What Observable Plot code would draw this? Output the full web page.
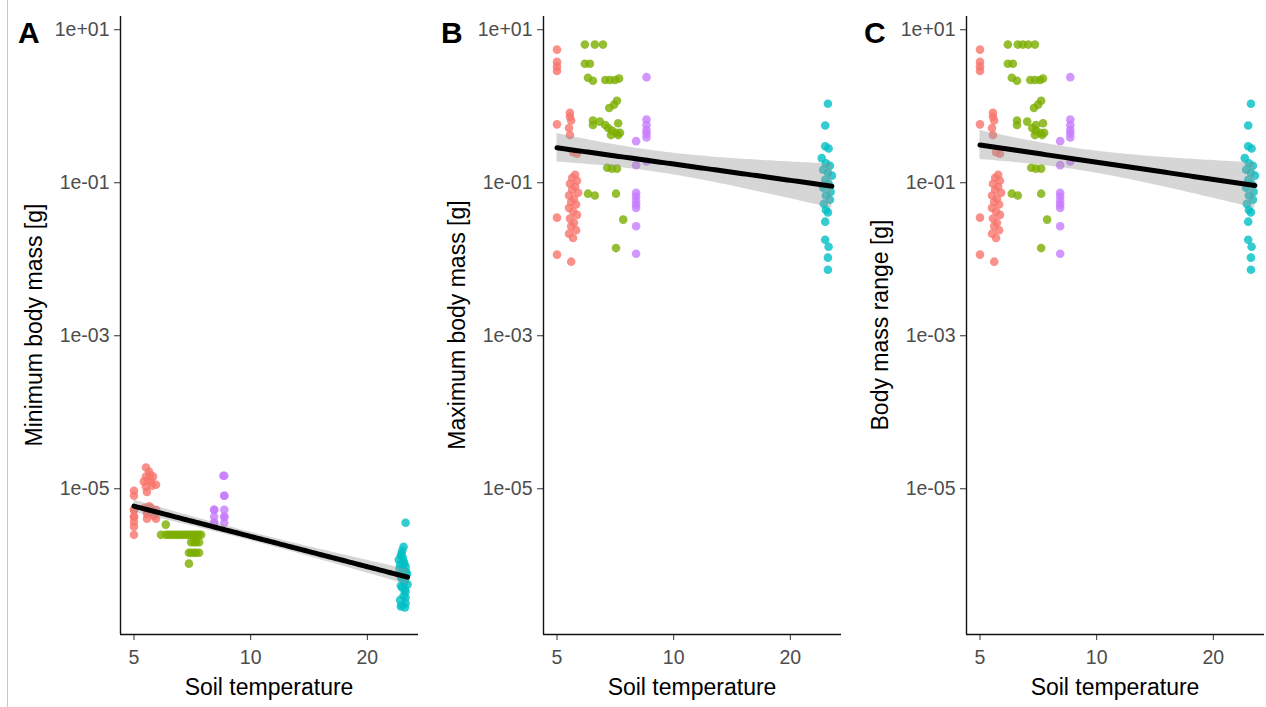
<!DOCTYPE html>
<html>
<head>
<meta charset="utf-8">
<script src="https://cdn.jsdelivr.net/npm/d3@7"></script>
<script src="https://cdn.jsdelivr.net/npm/@observablehq/plot@0.6"></script>
<style>
  html, body { margin: 0; padding: 0; background: #fff; }
  #wrap { position: relative; width: 1266px; height: 707px; overflow: hidden; background: #fff; }
  .panel { position: absolute; top: 0; width: 423px; height: 707px; }
  .panel svg { max-width: none !important; }
  #edge { position: absolute; left: 7px; top: 0; width: 1px; height: 707px; background: #c8c8c8; }
</style>
</head>
<body>
<div id="wrap"><div id="edge"></div></div>
<script>
// ---------- categories & styling data ----------
const groups = ["g1", "g2", "g3", "g4"];
const groupColors = ["#F8766D", "#7CAE00", "#C77CFF", "#00BFC4"];
const xTicks = [5, 10, 20];
const xTickLabels = ["5", "10", "20"];
const yTicks = [10, 0.1, 0.001, 0.00001];
const yTickLabels = ["1e+01", "1e-01", "1e-03", "1e-05"];
const panelLetters = ["A", "B", "C"];
const yTitles = ["Minimum body mass [g]", "Maximum body mass [g]", "Body mass range [g]"];
const xTitle = "Soil temperature";

// ---------- Panel A: minimum body mass ----------
const minTemp = [
  // g1
  5.0, 5.0, 5.0, 5.0, 5.0, 5.0, 5.0,
  5.37, 5.47, 5.37, 5.60, 5.30, 5.53, 5.70, 5.37, 5.40, 5.33, 5.53, 5.70, 5.40, 5.63, 5.40, 5.70,
  5.44, 5.57, 5.50, 5.40, 5.60, 5.47, 5.0, 5.0,
  // g2
  6.04, 5.87, 6.04, 6.23, 6.42, 6.62, 6.82, 7.02, 7.23, 7.45, 7.02, 7.23, 7.36, 6.93, 7.14, 7.36, 6.93,
  6.13, 6.32, 6.52, 6.72, 6.92, 7.12, 7.34, 7.14, 7.23, 7.02,
  // g3
  8.55, 8.50, 8.55, 8.05, 8.55, 8.05, 8.55, 8.05, 8.55,
  8.05, 8.55, 8.05, 8.55,
  // g4
  25.1, 24.8, 24.6, 24.4, 24.1, 24.8, 24.3, 25.1, 24.7, 25.3, 24.4, 25.0, 25.4, 24.6, 25.1, 24.8, 24.3, 25.1, 24.4, 25.0,
  24.5, 24.9, 24.2, 25.2, 24.6, 24.9, 24.4, 25.0, 24.7, 24.5, 25.1, 24.6
];
const minMass = [
  // g1
  9.4e-6, 8.1e-6, 5.3e-6, 4.3e-6, 3.7e-6, 3.2e-6, 2.5e-6,
  1.9e-5, 1.67e-5, 1.44e-5, 1.44e-5, 1.24e-5, 1.24e-5, 1.13e-5, 1.06e-5, 9.1e-6, 5.65e-6, 5.65e-6, 5.3e-6, 4.7e-6, 4.4e-6, 4.05e-6, 4.05e-6,
  1.3e-5, 1.1e-5, 1.5e-5, 5.0e-6, 4.6e-6, 5.9e-6, 5.3e-6, 4.3e-6,
  // g2
  3.4e-6, 2.5e-6, 2.5e-6, 2.5e-6, 2.5e-6, 2.5e-6, 2.5e-6, 2.5e-6, 2.5e-6, 2.5e-6, 2.0e-6, 2.0e-6, 2.0e-6, 1.46e-6, 1.46e-6, 1.46e-6, 1.05e-6,
  2.5e-6, 2.5e-6, 2.5e-6, 2.5e-6, 2.5e-6, 2.5e-6, 2.5e-6, 2.0e-6, 1.46e-6, 1.46e-6,
  // g3
  1.48e-5, 1.48e-5, 8.1e-6, 5.3e-6, 5.3e-6, 4.3e-6, 4.3e-6, 3.6e-6, 3.6e-6,
  5.3e-6, 4.3e-6, 3.6e-6, 8.1e-6,
  // g4
  3.6e-6, 1.75e-6, 1.55e-6, 1.33e-6, 1.18e-6, 1.12e-6, 1.02e-6, 9.6e-7, 8.7e-7, 7.7e-7, 7.1e-7, 6.5e-7, 5.6e-7, 5.1e-7, 4.5e-7, 4.0e-7, 3.5e-7, 3.2e-7, 2.9e-7, 2.8e-7,
  1.4e-6, 1.05e-6, 9.0e-7, 8.2e-7, 7.4e-7, 6.0e-7, 5.4e-7, 4.8e-7, 1.25e-6, 6.8e-7, 3.8e-7, 3.0e-7
];
const minGroup = [
  ...Array(31).fill("g1"), ...Array(27).fill("g2"), ...Array(13).fill("g3"), ...Array(32).fill("g4")
];

// ---------- Panel B: maximum body mass ----------
const maxTemp = [
  // g1
  5.0, 5.0, 5.0, 5.0, 5.0, 5.0, 5.0,
  5.40, 5.40, 5.44, 5.37, 5.40, 5.50, 5.63, 5.57, 5.47, 5.63, 5.40, 5.57, 5.47, 5.67, 5.37, 5.53, 5.44, 5.60, 5.37, 5.50, 5.63, 5.40, 5.53, 5.44, 5.60, 5.37, 5.50, 5.44,
  // g2
  5.90, 6.26, 6.57, 5.90, 6.08, 6.01, 6.19, 6.66, 6.85, 7.06, 7.23, 7.14, 7.02, 6.82, 6.19, 6.45, 6.66, 7.19, 6.19, 6.78, 6.93, 7.10, 7.27, 6.89, 7.19, 6.74, 6.93, 7.14, 6.01, 6.26, 7.10, 7.41, 7.10,
  // g3
  8.51, 8.51, 8.51, 8.51, 8.51, 8.51, 8.00, 8.51, 8.00, 8.00, 8.00, 8.00, 8.00, 8.00, 8.00, 8.00,
  // g4
  25.0, 24.6, 24.6, 25.1, 24.1, 24.7, 25.3, 24.3, 25.0, 25.6, 24.6, 25.1, 24.3, 25.4, 24.7, 25.3, 24.4, 24.7, 25.0, 24.6, 24.6, 25.1, 25.0, 25.0
];
const maxMass = [
  // g1
  5.5, 3.8, 3.3, 2.9, 0.58, 0.035, 0.0115,
  0.82, 0.73, 0.65, 0.52, 0.42, 0.25, 0.24, 0.127, 0.116, 0.106, 0.097, 0.089, 0.081, 0.074, 0.068, 0.062, 0.056, 0.052, 0.047, 0.042, 0.038, 0.034, 0.030, 0.027, 0.024, 0.0216, 0.019, 0.0093,
  // g2
  6.4, 6.4, 6.4, 3.6, 3.6, 2.36, 2.15, 2.2, 2.2, 2.2, 2.3, 1.18, 1.05, 0.95, 0.65, 0.63, 0.57, 0.6, 0.57, 0.52, 0.48, 0.45, 0.45, 0.42, 0.42, 0.157, 0.153, 0.153, 0.072, 0.068, 0.072, 0.033, 0.014,
  // g3
  2.4, 0.67, 0.57, 0.49, 0.44, 0.39, 0.35, 0.19, 0.17, 0.074, 0.066, 0.058, 0.052, 0.047, 0.027, 0.0118,
  // g4
  1.08, 0.56, 0.30, 0.28, 0.21, 0.18, 0.167, 0.148, 0.135, 0.124, 0.109, 0.097, 0.086, 0.076, 0.068, 0.060, 0.053, 0.044, 0.041, 0.031, 0.018, 0.0146, 0.0105, 0.0073
];
const maxGroup = [
  ...Array(35).fill("g1"), ...Array(33).fill("g2"), ...Array(16).fill("g3"), ...Array(24).fill("g4")
];

// ---------- Panel C: body mass range ----------
const rangeTemp = [
  // g1
  5.0, 5.0, 5.0, 5.0, 5.0, 5.0, 5.0,
  5.40, 5.40, 5.44, 5.37, 5.40, 5.50, 5.63, 5.57, 5.47, 5.63, 5.40, 5.57, 5.47, 5.67, 5.37, 5.53, 5.44, 5.60, 5.37, 5.50, 5.63, 5.40, 5.53, 5.44, 5.60, 5.37, 5.50, 5.44,
  // g2
  5.90, 6.26, 6.45, 6.66, 6.93, 5.90, 6.08, 6.04, 6.23, 6.74, 6.93, 7.14, 7.27, 7.19, 7.06, 6.89, 6.23, 6.62, 6.97, 7.27, 6.23, 6.82, 6.97, 7.14, 7.32, 6.93, 7.23, 6.78, 6.97, 7.19, 6.04, 6.26, 7.19, 7.45, 7.19,
  // g3
  8.55, 8.55, 8.55, 8.55, 8.55, 8.55, 8.05, 8.55, 8.05, 8.05, 8.05, 8.05, 8.05, 8.05, 8.05, 8.05,
  // g4
  25.0, 24.6, 24.6, 25.1, 24.1, 24.7, 25.3, 24.3, 25.0, 25.6, 24.6, 25.1, 24.3, 25.4, 24.7, 25.3, 24.4, 24.7, 25.0, 24.6, 24.6, 25.1, 25.0, 25.0
];
const rangeMass = [
  // g1
  5.5, 3.8, 3.3, 2.9, 0.58, 0.035, 0.0115,
  0.82, 0.73, 0.65, 0.52, 0.42, 0.25, 0.24, 0.127, 0.116, 0.106, 0.097, 0.089, 0.081, 0.074, 0.068, 0.062, 0.056, 0.052, 0.047, 0.042, 0.038, 0.034, 0.030, 0.027, 0.024, 0.0216, 0.019, 0.0093,
  // g2
  6.4, 6.4, 6.4, 6.4, 6.4, 3.6, 3.6, 2.36, 2.15, 2.2, 2.2, 2.2, 2.3, 1.18, 1.05, 0.95, 0.65, 0.63, 0.57, 0.6, 0.57, 0.52, 0.48, 0.45, 0.45, 0.42, 0.42, 0.157, 0.153, 0.153, 0.072, 0.068, 0.072, 0.033, 0.014,
  // g3
  2.4, 0.67, 0.57, 0.49, 0.44, 0.39, 0.35, 0.19, 0.17, 0.074, 0.066, 0.058, 0.052, 0.047, 0.027, 0.0118,
  // g4
  1.08, 0.56, 0.30, 0.28, 0.21, 0.18, 0.167, 0.148, 0.135, 0.124, 0.109, 0.097, 0.086, 0.076, 0.068, 0.060, 0.053, 0.044, 0.041, 0.031, 0.018, 0.0146, 0.0105, 0.0073
];
const rangeGroup = [
  ...Array(35).fill("g1"), ...Array(35).fill("g2"), ...Array(16).fill("g3"), ...Array(24).fill("g4")
];

// ---------- helpers ----------
function rows(temps, masses, grp) {
  return temps.map((t, i) => ({temp: t, mass: masses[i], group: grp[i]}));
}
// linear model on log10-log10 scale with 95% confidence band (like geom_smooth(method = "lm"))
function lmFit(data) {
  const X = data.map(d => Math.log10(d.temp)), Y = data.map(d => Math.log10(d.mass));
  const n = X.length;
  const xb = d3.mean(X), yb = d3.mean(Y);
  let sxx = 0, sxy = 0;
  for (let i = 0; i < n; i++) { sxx += (X[i] - xb) ** 2; sxy += (X[i] - xb) * (Y[i] - yb); }
  const b = sxy / sxx, a = yb - b * xb;
  let sse = 0;
  for (let i = 0; i < n; i++) sse += (Y[i] - a - b * X[i]) ** 2;
  const s = Math.sqrt(sse / (n - 2));
  const df = n - 2;
  const t = 1.96 + 2.4 / df;
  const [x0, x1] = d3.extent(X);
  return d3.range(81).map(k => {
    const x = x0 + (x1 - x0) * k / 80;
    const yh = a + b * x;
    const se = s * Math.sqrt(1 / n + (x - xb) ** 2 / sxx);
    return {temp: 10 ** x, fit: 10 ** yh, lo: 10 ** (yh - t * se), hi: 10 ** (yh + t * se)};
  });
}

const panelData = [
  rows(minTemp, minMass, minGroup),
  rows(maxTemp, maxMass, maxGroup),
  rows(rangeTemp, rangeMass, rangeGroup)
];

const W = 423, H = 707, ML = 120, MR = 5, MT = 16, MB = 73;
const xDomain = [4.615, 27.1];
const yDomain = [1.245e-7, 14.9];
const font = "'Liberation Sans', Arial, Helvetica, sans-serif";

panelData.forEach((data, p) => {
  const fitRows = lmFit(data);
  const chart = Plot.plot({
    width: W, height: H,
    marginLeft: ML, marginRight: MR, marginTop: MT, marginBottom: MB,
    style: {fontFamily: font, fontSize: "19.5px", background: "transparent", overflow: "visible", maxWidth: "none"},
    x: {type: "log", domain: xDomain},
    y: {type: "log", domain: yDomain},
    color: {domain: groups, range: groupColors},
    marks: [
      Plot.dot(data, {x: "temp", y: "mass", fill: "group", r: 4.3, fillOpacity: 0.8}),
      Plot.areaY(fitRows, {x: "temp", y1: "lo", y2: "hi", fill: "#999999", fillOpacity: 0.4}),
      Plot.lineY(fitRows, {x: "temp", y: "fit", stroke: "#000", strokeWidth: 5}),
      Plot.axisX({ticks: xTicks, tickFormat: d => xTickLabels[xTicks.indexOf(d)], tickSize: 6, tickPadding: 10, label: null, stroke: "#333", fill: "#4d4d4d"}),
      Plot.axisY({ticks: yTicks, tickFormat: d => yTickLabels[yTicks.indexOf(d)], tickSize: 6, tickPadding: 5, label: null, stroke: "#333", fill: "#4d4d4d"}),
      Plot.ruleX([xDomain[0]], {stroke: "#111", strokeWidth: 1.4}),
      Plot.ruleY([yDomain[0]], {stroke: "#111", strokeWidth: 1.4})
    ]
  });
  chart.style.maxWidth = "none";
  chart.setAttribute("width", W);
  chart.setAttribute("height", H);
  const holder = document.createElement("div");
  holder.className = "panel";
  holder.style.left = (p * W) + "px";
  holder.appendChild(chart);
  document.getElementById("wrap").appendChild(holder);

  const svg = d3.select(chart);
  svg.append("text")
    .attr("x", 18).attr("y", 43)
    .attr("text-anchor", "start")
    .attr("font-family", font).attr("font-weight", "bold").attr("font-size", 30)
    .attr("fill", "#000")
    .text(panelLetters[p]);
  svg.append("text")
    .attr("transform", `translate(42,325) rotate(-90)`)
    .attr("text-anchor", "middle")
    .attr("font-family", font).attr("font-size", 23)
    .attr("fill", "#000")
    .text(yTitles[p]);
  svg.append("text")
    .attr("x", (ML + (W - MR)) / 2).attr("y", 695)
    .attr("text-anchor", "middle")
    .attr("font-family", font).attr("font-size", 23)
    .attr("fill", "#000")
    .text(xTitle);
});
</script>
</body>
</html>
